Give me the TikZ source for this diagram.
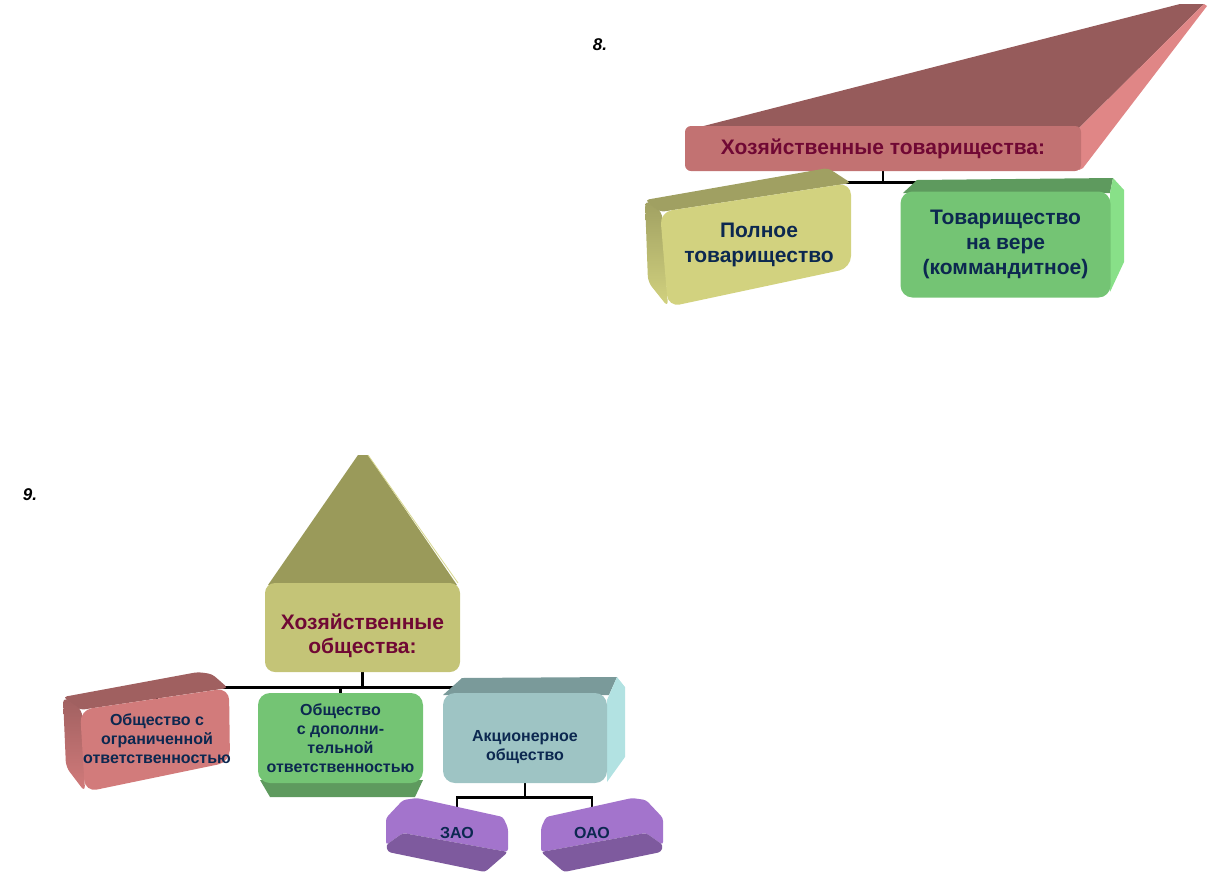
\documentclass[tikz,border=0pt]{standalone}
\usepackage{fontspec}
\setmainfont{Liberation Sans}
\usetikzlibrary{backgrounds}

\definecolor{trtop}{HTML}{965B5B}
\definecolor{trside}{HTML}{E08686}
\definecolor{trfront}{HTML}{C27272}
\definecolor{yltop}{HTML}{A0A062}
\definecolor{ylfront}{HTML}{D2D27F}
\definecolor{grtop}{HTML}{5E9A5E}
\definecolor{grside}{HTML}{88E088}
\definecolor{grfront}{HTML}{74C474}
\definecolor{oltop}{HTML}{9A9A5A}
\definecolor{olfront}{HTML}{C4C477}
\definecolor{oledge}{HTML}{D8D890}
\definecolor{rdtop}{HTML}{A06060}
\definecolor{rdfront}{HTML}{D27B7B}
\definecolor{tltop}{HTML}{7A9A9A}
\definecolor{tlside}{HTML}{B2E2E2}
\definecolor{tlfront}{HTML}{9EC4C4}
\definecolor{pptop}{HTML}{A374CC}
\definecolor{ppdark}{HTML}{7E5A9E}
\definecolor{navytxt}{HTML}{0C2850}
\definecolor{maroontxt}{HTML}{700834}

\begin{document}
\begin{tikzpicture}[x=1pt, y=-1pt]
    % Define styles
    \tikzset{
        frontbox/.style={rounded corners=10pt, inner sep=0pt, align=center, text=navytxt},
        headtext/.style={align=center, text=maroontxt, font=\bfseries\fontsize{21}{24}\selectfont},
        bigtext/.style={align=center, text=navytxt, font=\bfseries\fontsize{21}{25}\selectfont},
        subtext/.style={align=center, text=navytxt, font=\bfseries\fontsize{16}{19}\selectfont},
        connector/.style={draw=black, line width=2.8pt},
        numlabel/.style={font=\bfseries\itshape\fontsize{17}{19}\selectfont}
    }
    \useasboundingbox (0,0) rectangle (1208,887);

    % 8. Hozyaystvennye tovarishchestva
    \node[numlabel] (num8) at (600,45) {8.};
    \fill[trtop] (688,130) -- (1180,4) -- (1204,4) -- (1079,128) -- cycle;
    \fill[trside] (1079,128) -- (1204,4) -- (1207,6) -- (1083,168) -- (1079,170) -- cycle;
    \node[frontbox, headtext, fill=trfront, rounded corners=6pt, minimum width=396pt, minimum height=45pt] (tov) at (883,148.5) {Хозяйственные товарищества:};

    \shade[top color=yltop, bottom color=ylfront, rounded corners=6pt] (645,200) -- (662,212) -- (668,307) -- (648,282) -- cycle;
    \fill[yltop, rounded corners=4pt] (645,200) -- (828,168) -- (851,183) -- (660,212) -- cycle;
    \fill[ylfront, rounded corners=12pt] (660,212) -- (851,183) -- (851,268) -- (668,307) -- cycle;
    \node[bigtext] (poln) at (759,245) {Полное\\товарищество};

    \fill[grtop] (903,193) -- (917,180) -- (1113,178) -- (1110,193) -- cycle;
    \fill[grside] (1110,193) -- (1113,178) -- (1124,190) -- (1124,262) -- (1110,292) -- cycle;
    \node[frontbox, bigtext, fill=grfront, rounded corners=12pt, minimum width=210pt, minimum height=106pt] (kom) at (1005.5,244.5) {Товарищество\\на вере\\(коммандитное)};

    % 9. Hozyaystvennye obshchestva
    \node[numlabel] (num9) at (30,495) {9.};
    \fill[oltop] (268,585) -- (358,455) -- (368,455) -- (457,585) -- cycle;
    \draw[oledge, line width=0.8pt] (368,455) -- (458,583);
    \node[frontbox, fill=olfront, minimum width=195pt, minimum height=89pt] (obsh) at (362.5,627.5) {};
    \node[headtext] (obshtxt) at (362.5,636) {Хозяйственные\\общества:};

    \fill[rdtop, rounded corners=4pt] (63,697) -- (198,672) -- (212,674) -- (228,688) -- (80,710) -- cycle;
    \shade[top color=rdtop, bottom color=rdfront, rounded corners=6pt] (63,697) -- (82,710) -- (85,792) -- (66,767) -- cycle;
    \fill[rdfront, rounded corners=12pt] (80,710) -- (229,688) -- (230,762) -- (85,792) -- cycle;
    \node[subtext] (ooo) at (157,739) {Общество с\\ограниченной\\ответственностью};

    \fill[grtop] (260,780) -- (423,780) -- (415,797) -- (270,797) -- cycle;
    \node[frontbox, subtext, fill=grfront, rounded corners=12pt, minimum width=165pt, minimum height=90pt] (odo) at (340.5,738) {Общество\\с дополни-\\тельной\\ответственностью};

    \fill[tltop] (443,695) -- (462,678) -- (617,677) -- (609,695) -- cycle;
    \fill[tlside] (607,700) -- (617,677) -- (625,687) -- (625,757) -- (607,782) -- cycle;
    \node[frontbox, fill=tlfront, rounded corners=12pt, minimum width=164pt, minimum height=90pt] (ao) at (525,738) {};
    \node[subtext] (aotxt) at (525,747) {Акционерное\\общество};

    \foreach \cx/\sx in {447/1, 602/-1}{
        \begin{scope}[shift={(\cx,833)}, xscale=\sx]
            \fill[pptop, rounded corners=3pt] (-61,-15) -- (-44,-33) -- (-30,-35) -- (56,-16) -- (61,-5) -- (61,19) -- (-44,0) -- (-61,12) -- cycle;
            \fill[ppdark, rounded corners=3pt] (-61,12) -- (-44,0) -- (61,19) -- (38,39) -- (-59,19) -- cycle;
        \end{scope}
    }
    \node[subtext] (zao) at (457,833) {ЗАО};
    \node[subtext] (oao) at (592,833) {ОАО};

    % Connectors
    \begin{pgfonlayer}{background}
        \draw[connector] (tov.south) -- ++(0,11) coordinate (bus8);
        \draw[connector] (bus8) -| (poln);
        \draw[connector] (bus8) -| (kom);
        \draw[connector] (obsh.south) -- ++(0,15) coordinate (bus9);
        \draw[connector] (bus9) -| (ooo);
        \draw[connector] (bus9) -| (ao);
        \draw[connector] (odo.north) -- (odo.north |- bus9);
        \draw[connector] (ao.south) -- ++(0,14) coordinate (busAO);
        \draw[connector] (busAO) -| (zao);
        \draw[connector] (busAO) -| (oao);
    \end{pgfonlayer}
\end{tikzpicture}
\end{document}
